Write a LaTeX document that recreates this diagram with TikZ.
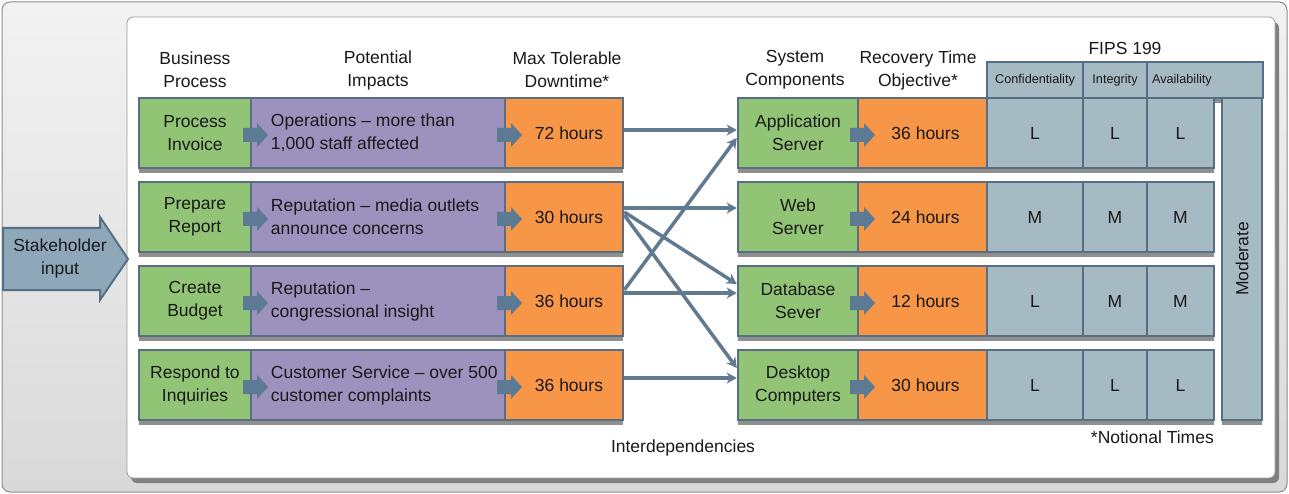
\documentclass[tikz,border=0pt]{standalone}
\usepackage{fontspec}
\setmainfont{Liberation Sans}
\usetikzlibrary{arrows.meta,shadows}

\definecolor{procgreen}{RGB}{146,196,118}
\definecolor{impactpurple}{RGB}{157,145,189}
\definecolor{hourorange}{RGB}{247,150,70}
\definecolor{fipsgray}{RGB}{166,186,196}
\definecolor{rowedge}{RGB}{88,110,130}
\definecolor{depline}{RGB}{98,122,143}
\definecolor{chevblue}{RGB}{92,122,148}
\definecolor{stakefill}{RGB}{143,168,185}

\begin{document}
\begin{tikzpicture}[x=1pt,y=-1pt]

    \tikzset{
      txt/.style={
        font=\fontsize{17.5}{23}\selectfont,
        text={black!90},
        align=center,
        inner sep=0pt,
      },
      cell/.style={
        txt,
        draw=rowedge,
        line width=2.5pt,
        minimum height=70pt,
        drop shadow={shadow xshift=0pt, shadow yshift=-5pt, fill=black!55, opacity=0.8},
      },
      proc/.style={cell, fill=procgreen, minimum width=112pt},
      impact/.style={cell, fill=impactpurple, minimum width=254pt},
      impacttext/.style={txt, anchor=west, align=left},
      hours/.style={cell, fill=hourorange, minimum width=118pt},
      comp/.style={cell, fill=procgreen, minimum width=120pt},
      rto/.style={cell, fill=hourorange, minimum width=129pt},
      fips/.style={cell, fill=fipsgray, line width=2pt},
      fipshead/.style={fips, minimum height=36pt, font=\fontsize{12.7}{15}\selectfont},
      dep/.style={
        draw=depline,
        line width=3.5pt,
        -{Stealth[length=10pt,width=11pt,inset=3pt]},
      },
      chev/.pic={
        \fill[chevblue] (-8,-7) -- (6,-7) -- (6,-12) -- (17,0) -- (6,12) -- (6,7) -- (-8,7) -- cycle;
      },
    }
    \useasboundingbox (0,0) rectangle (1289,494);

    % frames
    \draw[draw=black!45, line width=1pt, top color=black!5, bottom color=black!15, rounded corners=8pt] (2,2) rectangle (1287,492);
    \draw[draw=black!40, line width=0.8pt, fill=white, rounded corners=6pt,
      drop shadow={shadow xshift=4pt, shadow yshift=-5pt, fill=black!50, opacity=1}] (127,17) rectangle (1275,478);

    % stakeholder input
    \draw[draw=rowedge, line width=2pt, fill=stakefill] (3,228) -- (100,228) -- (100,217) -- (128,259) -- (100,300) -- (100,290) -- (3,290) -- cycle;
    \node[txt] (stake) at (60,258) {Stakeholder\\input};

    % column heads
    \node[txt] (hbp) at (195,70) {Business\\Process};
    \node[txt] (hpi) at (378,70) {Potential\\Impacts};
    \node[txt] (hmtd) at (567,70) {Max Tolerable\\Downtime*};
    \node[txt] (hsc) at (795,70) {System\\Components};
    \node[txt] (hrto) at (918,70) {Recovery Time\\Objective*};
    \node[txt] (hfips) at (1125,48) {FIPS 199};
    \node[fipshead, minimum width=96pt] (hconf) at (1035,80) {Confidentiality};
    \node[fipshead, minimum width=64pt] (hinteg) at (1115,80) {Integrity};
    \node[fipshead, minimum width=116pt, text width=106pt, align=left] (havail) at (1205,80) {Availability};

    % business processes
    \node[proc] (bp1) at (195,133) {Process\\Invoice};
    \node[proc] (bp2) at (195,217) {Prepare\\Report};
    \node[proc] (bp3) at (195,301) {Create\\Budget};
    \node[proc] (bp4) at (195,385) {Respond to\\Inquiries};

    \node[impact] (pi1) at (378,133) {};
    \node[impact] (pi2) at (378,217) {};
    \node[impact] (pi3) at (378,301) {};
    \node[impact] (pi4) at (378,385) {};

    \node[hours] (mtd1) at (564,133) {\hspace*{10pt}72 hours};
    \node[hours] (mtd2) at (564,217) {\hspace*{10pt}30 hours};
    \node[hours] (mtd3) at (564,301) {\hspace*{10pt}36 hours};
    \node[hours] (mtd4) at (564,385) {\hspace*{10pt}36 hours};

    \node[impacttext] (pt1) at ([xshift=21pt]pi1.west) {Operations -- more than\\1,000 staff affected};
    \node[impacttext] (pt2) at ([xshift=21pt]pi2.west) {Reputation -- media outlets\\announce concerns};
    \node[impacttext] (pt3) at ([xshift=21pt]pi3.west) {Reputation --\\congressional insight};
    \node[impacttext] (pt4) at ([xshift=21pt]pi4.west) {Customer Service -- over 500\\customer complaints};

    % system components
    \node[comp] (sc1) at (798,133) {Application\\Server};
    \node[comp] (sc2) at (798,217) {Web\\Server};
    \node[comp] (sc3) at (798,301) {Database\\Sever};
    \node[comp] (sc4) at (798,385) {Desktop\\Computers};

    \node[rto] (rto1) at (922.5,133) {\hspace*{6pt}36 hours};
    \node[rto] (rto2) at (922.5,217) {\hspace*{6pt}24 hours};
    \node[rto] (rto3) at (922.5,301) {\hspace*{6pt}12 hours};
    \node[rto] (rto4) at (922.5,385) {\hspace*{6pt}30 hours};

    % FIPS 199 levels
    \node[fips, minimum width=96pt] (conf1) at (1035,133) {L};
    \node[fips, minimum width=64pt] (integ1) at (1115,133) {L};
    \node[fips, minimum width=67pt] (avail1) at (1180.5,133) {L};
    \node[fips, minimum width=96pt] (conf2) at (1035,217) {M};
    \node[fips, minimum width=64pt] (integ2) at (1115,217) {M};
    \node[fips, minimum width=67pt] (avail2) at (1180.5,217) {M};
    \node[fips, minimum width=96pt] (conf3) at (1035,301) {L};
    \node[fips, minimum width=64pt] (integ3) at (1115,301) {M};
    \node[fips, minimum width=67pt] (avail3) at (1180.5,301) {M};
    \node[fips, minimum width=96pt] (conf4) at (1035,385) {L};
    \node[fips, minimum width=64pt] (integ4) at (1115,385) {L};
    \node[fips, minimum width=67pt] (avail4) at (1180.5,385) {L};
    \node[fips, minimum width=40pt, minimum height=322pt] (moderate) at (1242,259) {\rotatebox{90}{Moderate}};

    % small arrows between cells
    \pic at (251,135) {chev};
    \pic at (251,219) {chev};
    \pic at (251,303) {chev};
    \pic at (251,387) {chev};
    \pic at (505,135) {chev};
    \pic at (505,219) {chev};
    \pic at (505,303) {chev};
    \pic at (505,387) {chev};
    \pic at (858,135) {chev};
    \pic at (858,219) {chev};
    \pic at (858,303) {chev};
    \pic at (858,387) {chev};

    % interdependencies
    \draw[dep] ([yshift=3pt]mtd1.east) -- ([yshift=3pt]sc1.west);
    \draw[dep] ([yshift=9pt]mtd2.east) -- ([yshift=9pt]sc2.west);
    \draw[dep] ([yshift=5pt]mtd2.east) -- ([yshift=17pt]sc3.west);
    \draw[dep] ([yshift=2pt]mtd2.east) -- ([yshift=17pt]sc4.west);
    \draw[dep] ([yshift=11pt]mtd3.east) -- ([yshift=-5pt]sc1.west);
    \draw[dep] ([yshift=8pt]mtd3.east) -- ([yshift=8pt]sc3.west);
    \draw[dep] ([yshift=7pt]mtd4.east) -- ([yshift=7pt]sc4.west);

    \node[txt] (interdep) at (683,448) {Interdependencies};
    \node[txt, anchor=east] (notional) at (1214,437) {*Notional Times};

\end{tikzpicture}
\end{document}
